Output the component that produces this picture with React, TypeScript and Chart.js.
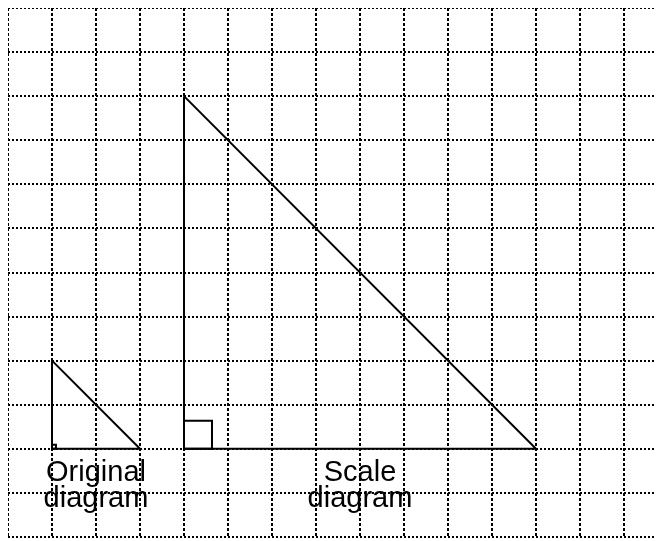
import React, { useEffect, useRef } from "react";
import { Chart, registerables } from "chart.js";

Chart.register(...registerables);

// Grid in unit squares
const xTicks = [0, 1, 2, 3, 4, 5, 6, 7, 8, 9, 10, 11, 12, 13, 14];
const yTicks = [0, 1, 2, 3, 4, 5, 6, 7, 8, 9, 10, 11, 12];
const xMax = 14.909;
const yMax = 12;

// Original triangle (right angle at (1,2))
const originalX = [1, 1, 3, 1];
const originalY = [4, 2, 2, 4];
// Scale triangle (scale factor 4, right angle at (4,2))
const scaleX = [4, 4, 12, 4];
const scaleY = [10, 2, 2, 10];

// Right-angle markers
const originalMarkX = [1, 1.09, 1.09, 1];
const originalMarkY = [2.09, 2.09, 2, 2];
const scaleMarkX = [4, 4.636, 4.636, 4];
const scaleMarkY = [2.636, 2.636, 2, 2];

// Labels
const labelTexts = [["Original", "diagram"], ["Scale", "diagram"]];
const labelX = [2, 8];

const toPoints = (xs: number[], ys: number[]) => xs.map((x, i) => ({ x, y: ys[i] }));

const labelPlugin = {
  id: "labels",
  afterDatasetsDraw(chart: any) {
    const ctx = chart.ctx;
    const xs = chart.scales.x;
    const ys = chart.scales.y;
    ctx.save();
    ctx.fillStyle = "#000";
    ctx.font = "29px 'Liberation Sans', Arial, sans-serif";
    ctx.textAlign = "center";
    ctx.textBaseline = "alphabetic";
    labelTexts.forEach((lines, i) => {
      const px = xs.getPixelForValue(labelX[i]);
      const base = ys.getPixelForValue(2);
      lines.forEach((t, j) => {
        ctx.fillText(t, px, base + 32 + j * 26);
      });
    });
    ctx.restore();
  },
};

export default function App() {
  const ref = useRef<HTMLCanvasElement>(null);
  useEffect(() => {
    if (!ref.current) return;
    const lineDs = (data: any[]) => ({
      data,
      showLine: true,
      borderColor: "#000",
      borderWidth: 2,
      pointRadius: 0,
      fill: false,
      tension: 0,
    });
    const chart = new Chart(ref.current, {
      type: "scatter",
      data: {
        datasets: [
          lineDs(toPoints(originalX, originalY)),
          lineDs(toPoints(scaleX, scaleY)),
          lineDs(toPoints(originalMarkX, originalMarkY)),
          lineDs(toPoints(scaleMarkX, scaleMarkY)),
        ],
      },
      options: {
        animation: false,
        responsive: false,
        devicePixelRatio: 1,
        layout: { padding: { top: 0, left: 0, right: 0, bottom: 1 } },
        plugins: { legend: { display: false }, tooltip: { enabled: false } },
        scales: {
          x: {
            type: "linear",
            min: 0,
            max: xMax,
            afterBuildTicks: (s: any) => {
              s.ticks = xTicks.map((v) => ({ value: v }));
            },
            ticks: { display: false },
            grid: { color: "#000", lineWidth: 2, drawTicks: false },
            border: { display: false, dash: [3, 2] },
          },
          y: {
            type: "linear",
            min: 0,
            max: yMax,
            afterBuildTicks: (s: any) => {
              s.ticks = yTicks.map((v) => ({ value: v }));
            },
            ticks: { display: false },
            grid: { color: "#000", lineWidth: 2, drawTicks: false },
            border: { display: false, dash: [2, 2] },
          },
        },
      },
      plugins: [labelPlugin],
    } as any);
    return () => chart.destroy();
  }, []);
  return (
    <div style={{ width: 656, height: 530 }}>
      <canvas ref={ref} width={656} height={530} style={{ display: "block" }} />
    </div>
  );
}
